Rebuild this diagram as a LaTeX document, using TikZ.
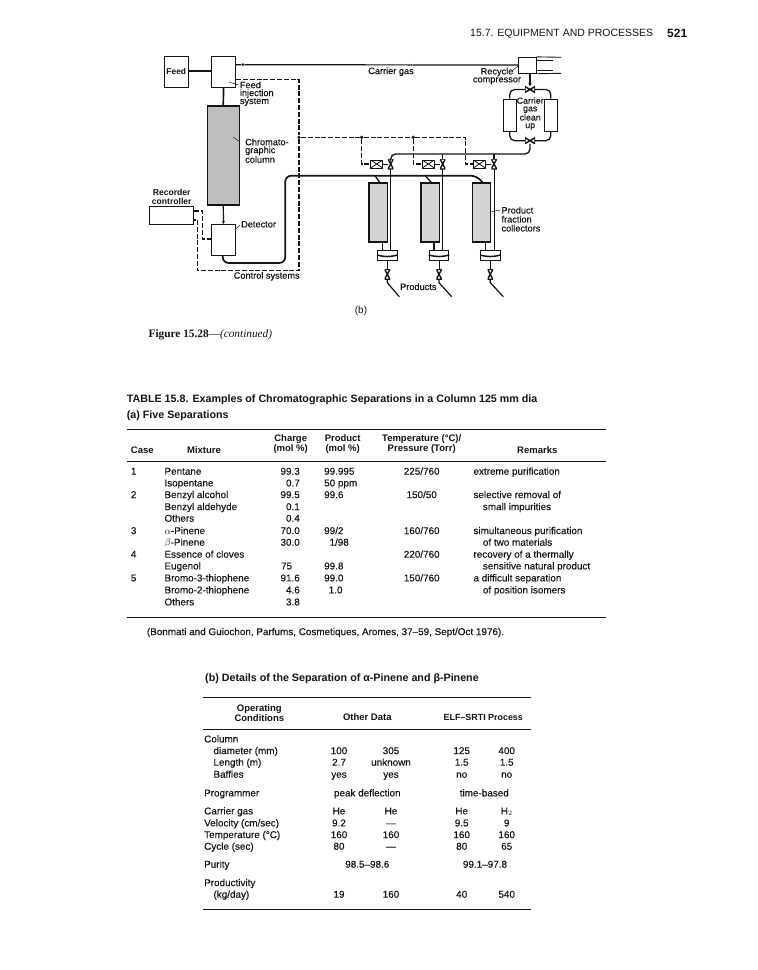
\documentclass[tikz,border=0pt]{standalone}
\usepackage{fontspec}
\usepackage{amsmath}
\setmainfont{Liberation Sans}
\newfontfamily\capfont{Liberation Serif}
\newfontfamily\figfont[FakeBold=0.3]{Liberation Sans}
\newfontfamily\cellfont[FakeBold=0.12]{Liberation Sans}
\usetikzlibrary{arrows.meta, calc}
\definecolor{inkblack}{RGB}{20, 20, 20}
\definecolor{columngray}{RGB}{190, 190, 190}
\definecolor{fractiongray}{RGB}{212, 212, 212}

\begin{document}
\begin{tikzpicture}[
  x=1pt, y=-1pt,
  every node/.style={text=inkblack},
  unitbox/.style={
    rectangle, draw=inkblack, fill=white,
    line width=0.9pt, inner sep=0pt
  },
  chromcol/.style={
    unitbox, fill=columngray, line width=1.5pt,
    minimum width=32pt, minimum height=99pt
  },
  fraccol/.style={
    unitbox, fill=fractiongray, line width=1.2pt,
    minimum width=18.5pt, minimum height=59pt
  },
  bedbox/.style={unitbox, minimum width=12.5pt, minimum height=32.5pt},
  collbox/.style={unitbox, minimum width=19.5pt, minimum height=10pt},
  xbox/.style={
    unitbox, minimum width=12pt, minimum height=8pt,
    path picture={
      \draw[inkblack, line width=0.8pt]
        (path picture bounding box.north west) -- (path picture bounding box.south east)
        (path picture bounding box.south west) -- (path picture bounding box.north east);
    }
  },
  vvalve/.style={
    inner sep=0pt, minimum width=5.5pt, minimum height=10pt,
    path picture={
      \draw[inkblack, fill=white, line width=1.4pt]
        (path picture bounding box.north west) -- (path picture bounding box.north east)
        -- (path picture bounding box.south west) -- (path picture bounding box.south east) -- cycle;
    }
  },
  hvalve/.style={
    inner sep=0pt, minimum width=10pt, minimum height=6pt,
    path picture={
      \draw[inkblack, fill=white, line width=1.4pt]
        (path picture bounding box.north west) -- (path picture bounding box.south west)
        -- (path picture bounding box.north east) -- (path picture bounding box.south east) -- cycle;
    }
  },
  jointdot/.style={circle, fill=inkblack, inner sep=0pt, minimum size=3.6pt},
  pipeline/.style={draw=inkblack, line width=1.7pt},
  gasline/.style={draw=inkblack, line width=0.9pt},
  ctrlline/.style={draw=inkblack, line width=1.05pt, dash pattern=on 5pt off 1.8pt},
  leaderline/.style={draw=inkblack, line width=0.5pt},
  figlabel/.style={font=\figfont\fontsize{9.2}{7.9}\selectfont, inner sep=0pt, align=left},
  tabcell/.style={font=\cellfont\fontsize{9.9}{11}\selectfont, inner sep=0pt,
    text height=6.8pt, text depth=2pt},
  tabhead/.style={font=\fontsize{9.5}{9.8}\selectfont\bfseries, inner sep=0pt, align=center},
  tabtitle/.style={font=\fontsize{10.7}{12}\selectfont\bfseries, inner sep=0pt, anchor=west},
  tabrule/.style={draw=inkblack, line width=1pt},
]

\useasboundingbox (0,0) rectangle (758,970);
\fill[white] (0,0) rectangle (758,970);

%% ================================================================
%% PAGE HEADER
%% ================================================================
\node[font=\fontsize{10.5}{12}\selectfont, inner sep=0pt, anchor=west] (runhead) at (470,34)
  {15.7. EQUIPMENT AND PROCESSES};
\node[font=\fontsize{12}{14}\selectfont\bfseries, inner sep=0pt, anchor=west] (pageno) at (667,33) {521};

%% ================================================================
%% FLOW SHEET: LEFT PART
%% ================================================================
\node[unitbox, minimum width=23.5pt, minimum height=30.5pt] (feed) at (176.3,72) {};
\node[unitbox, minimum width=24.5pt, minimum height=30.5pt] (inject) at (223.5,72) {};
\node[chromcol] (column) at (223.3,155.5) {};
\node[unitbox, minimum width=43.5pt, minimum height=18.5pt] (recorder) at (171.6,215.2) {};
\node[unitbox, minimum width=24.5pt, minimum height=30.5pt] (detector) at (223.5,239.7) {};

\node[figlabel, font=\fontsize{8.4}{8}\selectfont\bfseries] (feedtxt) at (176.3,71) {Feed};
\node[figlabel, anchor=west] (injtxt) at (239.7,93.7) {Feed\\injection\\system};
\node[figlabel, anchor=west] (coltxt) at (245,150.7) {Chromato-\\graphic\\column};
\node[figlabel, align=center, font=\fontsize{8.6}{8.6}\selectfont\bfseries] (rectxt) at (171.7,197) {Recorder\\controller};
\node[figlabel, anchor=west] (dettxt) at (241,224.3) {Detector};
\node[figlabel] (ctltxt) at (266.7,276.3) {Control systems};
\node[figlabel] (cartxt) at (391,71.7) {Carrier gas};

% Leaders
\coordinate (lf1) at (229,82);    \coordinate (lf2) at (238.5,85);
\coordinate (lc1) at (233.3,137.3); \coordinate (lc2) at (240,141.7);
\coordinate (ld1) at (235.5,229); \coordinate (ld2) at (240,225);
\draw[leaderline] (lf1) -- (lf2);
\draw[leaderline] (lc1) -- (lc2);
\draw[leaderline] (ld1) -- (ld2);

% Feed and carrier lines
\draw[pipeline] (feed.east |- 0,71.3) -- (inject.west |- 0,71.3);
\draw[pipeline] (inject.south) -- (column.north);
\draw[gasline, line width=1.2pt, -{Stealth[length=3pt, width=3pt]}] (column.south) -- (detector.north);

%% ================================================================
%% CONTROL SYSTEM (DASHED)
%% ================================================================
\node[jointdot] (ctrlj1) at (299,137.3) {};
\node[jointdot] (ctrlj2) at (361.7,137.3) {};
\node[jointdot] (ctrlj3) at (413.3,137.3) {};

\node[xbox] (sol1) at (376.7,164) {};
\node[xbox] (sol2) at (428.3,164) {};
\node[xbox] (sol3) at (479.3,164) {};

\draw[ctrlline] (inject.east |- 0,79.3) -| (ctrlj1);
\draw[ctrlline] (ctrlj1) -- (ctrlj2);
\draw[ctrlline] (ctrlj2) -- (ctrlj3);
\draw[ctrlline] (ctrlj3) -| (465.7,164) -- (sol3);
\draw[ctrlline] (ctrlj2) |- (sol1);
\draw[ctrlline] (ctrlj3) |- (sol2);
\draw[ctrlline] (ctrlj1) -- (299,270.7) -| (197.3,220) -- (recorder.east |- 0,220);
\draw[ctrlline] (recorder.east |- 0,211) -| (202.3,239) -- (detector.west |- 0,239);

%% ================================================================
%% PRODUCT COLUMNS
%% ================================================================
\node[fraccol] (frac1) at (378.2,212.4) {};
\node[fraccol] (frac2) at (430.3,212.4) {};
\node[fraccol] (frac3) at (481.4,212.4) {};

\node[collbox] (coll1) at (387.3,255) {};
\node[collbox] (coll2) at (439,255) {};
\node[collbox] (coll3) at (490.3,255) {};

\node[vvalve] (vin1) at (390.7,164) {};
\node[vvalve] (vin2) at (442.7,164) {};
\node[vvalve] (vin3) at (494,164) {};

\node[vvalve] (vout1) at (387.3,274.3) {};
\node[vvalve] (vout2) at (439,274.3) {};
\node[vvalve] (vout3) at (490.3,274.3) {};

\coordinate (bend1) at (387.3,282.7); \coordinate (prod1) at (399.3,296.7);
\coordinate (bend2) at (439,282.7);   \coordinate (prod2) at (451.7,296.7);
\coordinate (bend3) at (490.3,282.7); \coordinate (prod3) at (503.3,296.7);

\foreach \k in {1,2,3} {
  \draw[gasline] (sol\k) -- (vin\k);
  \draw[gasline] (vin\k) -- (vin\k |- coll\k.north);
  \draw[pipeline, line width=1.5pt] (coll\k.west) to[out=-15, in=195] (coll\k.east);
  \draw[gasline] (coll\k) -- (vout\k);
  \draw[gasline, line width=1.2pt] (vout\k) -- (bend\k) -- (prod\k);
}
\draw[pipeline, line width=1.3pt] (382.3,242) -- (382.3,250);
\draw[pipeline, line width=1.3pt] (434,242) -- (434,250);
\draw[pipeline, line width=1.3pt] (485.7,242) -- (485.7,250);

% Detector outlet to the product columns
\coordinate (pipe1) at (222.7,263);
\coordinate (pipe2) at (285.3,263);
\coordinate (pipe3) at (285.3,175.7);
\coordinate (pipe4) at (476.7,175.7);
\coordinate (pipe5) at (482.7,182.7);
\coordinate (tap1) at (375,175.7);  \coordinate (tap1e) at (380,182.7);
\coordinate (tap2) at (425,175.7);  \coordinate (tap2e) at (431.7,182.7);
\draw[pipeline, rounded corners=6pt] (detector.south -| pipe1) -- (pipe1) -- (pipe2) -- (pipe3) -- (pipe4) -- (pipe5);
\draw[pipeline, line width=1.3pt] (tap1) -- (tap1e);
\draw[pipeline, line width=1.3pt] (tap2) -- (tap2e);

%% ================================================================
%% RECYCLE AND CLEAN UP
%% ================================================================
\node[unitbox, minimum width=17.7pt, minimum height=16pt] (comp) at (527.2,65.3) {};
\coordinate (rodt1) at (561,57.3);   \coordinate (rodb1) at (561,73.3);
\coordinate (rodt2) at (553.3,60.7); \coordinate (rodb2) at (553.3,70);
\draw[gasline] (comp.north east) -- (rodt1);
\draw[gasline] (comp.south east) -- (rodb1);
\draw[gasline] (comp.east |- rodt2) -- (rodt2);
\draw[gasline] (comp.east |- rodb2) -- (rodb2);

\node[jointdot, minimum size=3pt] (carj1) at (243,64.7) {};
\node[jointdot, minimum size=2pt] (carj2) at (411.7,64.9) {};
\draw[gasline, line width=1.2pt] (inject.east |- carj1) -- (carj1) -- (carj2) -- (comp.west |- carj2);

\node[hvalve] (vtop) at (530,89.5) {};
\node[hvalve] (vbot) at (530,140.7) {};
\node[bedbox] (bed1) at (509.7,115.3) {};
\node[bedbox] (bed2) at (550.8,115.3) {};

\coordinate (topl) at (509.7,89.5);  \coordinate (topr) at (550.8,89.5);
\coordinate (botl) at (509.7,140.7); \coordinate (botr) at (550.8,140.7);
\draw[gasline, line width=1.2pt, -{Stealth[length=3.5pt, width=3.5pt]}] (comp.south -| vtop) -- (vtop.north);
\draw[pipeline, line width=1.3pt, rounded corners=5pt] (vtop.west) -- (topl) -- (bed1.north);
\draw[pipeline, line width=1.3pt, rounded corners=5pt] (vtop.east) -- (topr) -- (bed2.north);
\draw[pipeline, line width=1.3pt, rounded corners=5pt] (vbot.west) -- (botl) -- (bed1.south);
\draw[pipeline, line width=1.3pt, rounded corners=5pt] (vbot.east) -- (botr) -- (bed2.south);

% Return to the inlet valves
\coordinate (retn1) at (390.7,154);
\coordinate (retn2) at (530,154);
\draw[pipeline, line width=1.3pt, rounded corners=5pt] (vin1.north) -- (retn1) -- (retn2) -- (vbot.south);
\draw[pipeline, line width=1.3pt] (vin2.north) -- (vin2 |- retn1);
\draw[pipeline, line width=1.3pt] (vin3.north) -- (vin3 |- retn1);

\node[figlabel, align=center] (rectxt2) at (497,76) {Recycle\\compressor};
\node[figlabel, align=center, font=\figfont\fontsize{8.8}{7.6}\selectfont] (cleantxt) at (530.2,113.6) {Carrier\\gas\\clean\\up};
\node[figlabel, anchor=west, font=\figfont\fontsize{9.2}{9}\selectfont] (fractxt) at (501.3,219.2) {Product\\fraction\\collectors};
\node[figlabel] (prodtxt) at (418.3,286.7) {Products};

\coordinate (lr1) at (512,71);      \coordinate (lr2) at (518,66);
\coordinate (lp1) at (491.7,211.7); \coordinate (lp2) at (500,210);
\draw[leaderline] (lr1) -- (lr2);
\draw[leaderline] (lp1) -- (lp2);

\node[font=\fontsize{10}{12}\selectfont, inner sep=0pt] (partb) at (361,310.7) {(b)};
\node[font=\capfont\fontsize{11.3}{12}\selectfont, inner sep=0pt, anchor=west] (figcap) at (148.5,334.5)
  {\textbf{Figure 15.28}—\textit{(continued)}};

%% ================================================================
%% TABLE (a)
%% ================================================================
\node[tabtitle] (tatitle) at (126.7,400)
  {TABLE 15.8. Examples of Chromatographic Separations in a Column 125 mm dia};
\node[tabtitle] (tasub) at (126.7,416) {(a) Five Separations};

\coordinate (ta1l) at (126.7,429.3); \coordinate (ta1r) at (606,429.3);
\coordinate (ta2l) at (126.7,461);   \coordinate (ta2r) at (606,461);
\coordinate (ta3l) at (126.7,617.3); \coordinate (ta3r) at (606,617.3);
\draw[tabrule] (ta1l) -- (ta1r);
\draw[tabrule] (ta2l) -- (ta2r);
\draw[tabrule] (ta3l) -- (ta3r);

\node[tabhead, anchor=west] (hcase) at (130.7,450) {Case};
\node[tabhead] (hmix) at (204,450) {Mixture};
\node[tabhead] (hchg) at (290.7,444.3) {Charge\\(mol \%)};
\node[tabhead] (hpro) at (342.7,444.3) {Product\\(mol \%)};
\node[tabhead] (htem) at (421.7,444.3) {Temperature (°C)/\\Pressure (Torr)};
\node[tabhead] (hrem) at (537.3,450) {Remarks};

% Case numbers
\foreach \y/\t [count=\n] in {472.3/1, 495.7/2, 531.7/3, 555.3/4, 579/5}
  \node[tabcell, anchor=west] (case\n) at (130.7,\y) {\t};

% Mixtures
\foreach \y/\t [count=\n] in {472.3/Pentane, 484/Isopentane, 495.7/Benzyl alcohol,
    507.7/Benzyl aldehyde, 519.3/Others, 531.7/{$\alpha$-Pinene}, 543.3/{$\beta$-Pinene},
    555.3/Essence of cloves, 567/Eugenol, 579/Bromo-3-thiophene, 591/Bromo-2-thiophene, 603/Others}
  \node[tabcell, anchor=west] (mix\n) at (164.3,\y) {\t};

% Charge
\foreach \y/\t [count=\n] in {472.3/99.3, 484/0.7, 495.7/99.5, 507.7/0.1, 519.3/0.4, 531.7/70.0,
    543.3/30.0, 579/91.6, 591/4.6, 603/3.8}
  \node[tabcell, anchor=east] (chg\n) at (300,\y) {\t};
\node[tabcell, anchor=east] (chg75) at (292.3,567) {75};

% Product
\foreach \y/\t [count=\n] in {472.3/99.995, 484/50 ppm, 495.7/99.6, 531.7/{99/2}, 567/99.8, 579/99.0}
  \node[tabcell, anchor=west] (pro\n) at (324,\y) {\t};
\node[tabcell, anchor=east] (proa) at (349,543.3) {1/98};
\node[tabcell, anchor=east] (prob) at (342.7,591) {1.0};

% Temperature / pressure
\foreach \y/\t [count=\n] in {472.3/{225/760}, 495.7/{150/50}, 531.7/{160/760}, 555.3/{220/760}, 579/{150/760}}
  \node[tabcell] (tem\n) at (421.7,\y) {\t};

% Remarks
\foreach \y/\t [count=\n] in {472.3/extreme purification, 495.7/selective removal of, 531.7/simultaneous purification,
    555.3/recovery of a thermally, 579/a difficult separation}
  \node[tabcell, anchor=west] (rem\n) at (473.3,\y) {\t};
\foreach \y/\t [count=\n] in {507.7/small impurities, 543.3/of two materials, 567/sensitive natural product, 591/of position isomers}
  \node[tabcell, anchor=west] (remb\n) at (482.7,\y) {\t};

\node[tabcell, anchor=west] (source) at (146.7,632.7)
  {(Bonmati and Guiochon, Parfums, Cosmetiques, Aromes, 37–59, Sept/Oct 1976).};

%% ================================================================
%% TABLE (b)
%% ================================================================
\node[tabtitle] (tbtitle) at (205,679) {(b) Details of the Separation of α-Pinene and β-Pinene};

\coordinate (tb1l) at (203.3,697.3); \coordinate (tb1r) at (530.7,697.3);
\coordinate (tb2l) at (203.3,729);   \coordinate (tb2r) at (530.7,729);
\coordinate (tb3l) at (203.3,909);   \coordinate (tb3r) at (530.7,909);
\draw[tabrule] (tb1l) -- (tb1r);
\draw[tabrule] (tb2l) -- (tb2r);
\draw[tabrule] (tb3l) -- (tb3r);

\node[tabhead] (hop) at (259.3,712.8) {Operating\\Conditions};
\node[tabhead] (hoth) at (367.3,717.3) {Other Data};
\node[tabhead, font=\fontsize{8.9}{9.8}\selectfont\bfseries] (helf) at (483.3,717.3) {ELF–SRTI Process};

% Row labels
\foreach \y/\t [count=\n] in {740/Column, 794/Programmer, 812/Carrier gas, 824/{Velocity (cm/sec)},
    835.7/Temperature (°C), 847.3/Cycle (sec), 865.3/Purity, 883.7/Productivity}
  \node[tabcell, anchor=west] (lab\n) at (204,\y) {\t};
\foreach \y/\t [count=\n] in {751.7/diameter (mm), 763.3/Length (m), 775.3/Baffles, 895.3/{(kg/day)}}
  \node[tabcell, anchor=west] (labi\n) at (213.3,\y) {\t};

% Data rows
\foreach \y/\ta/\tb/\tc/\td [count=\n] in {751.7/100/305/125/400, 763.3/2.7/unknown/1.5/1.5, 775.3/yes/yes/no/no,
    812/He/He/He/{H$_2$}, 824/9.2/—/9.5/9, 835.7/160/160/160/160, 847.3/80/—/80/65, 895.3/19/160/40/540} {
  \node[tabcell] (da\n) at (339,\y) {\ta};
  \node[tabcell] (db\n) at (391,\y) {\tb};
  \node[tabcell] (dc\n) at (461.7,\y) {\tc};
  \node[tabcell] (dd\n) at (506.7,\y) {\td};
}

\node[tabcell] (peak) at (367.3,794) {peak deflection};
\node[tabcell] (timeb) at (484.3,794) {time-based};
\node[tabcell] (pura) at (367.3,865.3) {98.5–98.6};
\node[tabcell] (purb) at (485,865.3) {99.1–97.8};

\end{tikzpicture}
\end{document}
